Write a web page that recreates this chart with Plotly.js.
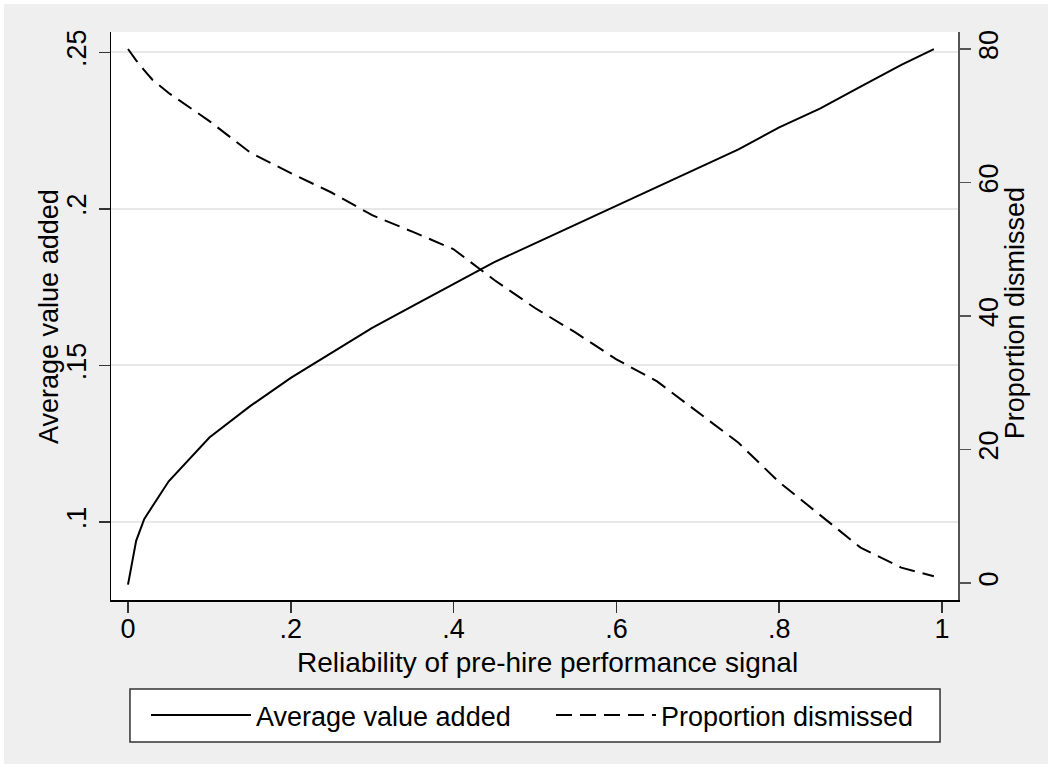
<!DOCTYPE html>
<html>
<head>
<meta charset="utf-8">
<script src="https://cdn.plot.ly/plotly-3.0.1.min.js"></script>
<style>html,body{margin:0;padding:0;background:#fff;}#chart{width:1052px;height:768px;}</style>
</head>
<body>
<div id="chart"></div>
<script>
const reliability = [0, 0.01, 0.02, 0.03, 0.05, 0.1, 0.15, 0.2, 0.25, 0.3, 0.35, 0.4, 0.45, 0.5, 0.55, 0.6, 0.65, 0.7, 0.75, 0.8, 0.85, 0.9, 0.95, 0.99];
const avgValueAdded = [0.080, 0.094, 0.101, 0.105, 0.113, 0.127, 0.137, 0.146, 0.154, 0.162, 0.169, 0.176, 0.183, 0.189, 0.195, 0.201, 0.207, 0.213, 0.219, 0.226, 0.232, 0.239, 0.246, 0.251];
const propDismissed = [80, 78.3, 76.8, 75.4, 73.4, 69.2, 64.5, 61.4, 58.5, 55.1, 52.6, 50, 45.4, 41.2, 37.5, 33.5, 30.2, 25.6, 21, 15.1, 10.2, 5.3, 2.3, 1];
const xTickVals = [0, 0.2, 0.4, 0.6, 0.8, 1];
const xTickText = ['0', '.2', '.4', '.6', '.8', '1'];
const yTickVals = [0.1, 0.15, 0.2, 0.25];
const yTickText = ['.1', '.15', '.2', '.25'];
const y2TickVals = [0, 20, 40, 60, 80];
const y2TickText = ['0', '20', '40', '60', '80'];
const xTitle = 'Reliability of pre-hire performance signal';
const yTitle = 'Average value added';
const y2Title = 'Proportion dismissed';

const FONT = 'Liberation Sans, Arial, Helvetica, sans-serif';
const FS = 27;

const traces = [
  {x: reliability, y: avgValueAdded, type: 'scatter', mode: 'lines', name: 'Average value added',
   line: {color: '#000', width: 2}, yaxis: 'y'},
  {x: reliability, y: propDismissed, type: 'scatter', mode: 'lines', name: 'Proportion dismissed',
   line: {color: '#000', width: 2, dash: '16px,8px'}, yaxis: 'y2'}
];

const layout = {
  width: 1052, height: 768,
  margin: {l: 111, r: 94, t: 32, b: 168, pad: 0},
  paper_bgcolor: '#ffffff',
  plot_bgcolor: 'rgba(0,0,0,0)',
  font: {family: FONT, size: FS, color: '#000'},
  showlegend: true,
  xaxis: {
    range: [-0.02088, 1.01966], tickvals: xTickVals, ticktext: xTickText,
    ticks: 'outside', ticklen: 11, tickwidth: 1.5, tickcolor: '#333',
    showline: true, linecolor: '#000', linewidth: 1.5, showgrid: false, zeroline: false,
    tickfont: {family: FONT, size: FS, color: '#000'}, ticklabelstandoff: -7,
    automargin: false, fixedrange: true
  },
  yaxis: {
    range: [0.07509, 0.25648], tickvals: yTickVals, ticktext: yTickText, tickangle: -90,
    ticks: 'outside', ticklen: 11, tickwidth: 1.5, tickcolor: '#333',
    showline: true, linecolor: '#000', linewidth: 1.5,
    showgrid: true, gridcolor: '#e8e8e8', gridwidth: 2, zeroline: false,
    tickfont: {family: FONT, size: FS, color: '#000'}, ticklabelstandoff: 2,
    automargin: false, fixedrange: true
  },
  yaxis2: {
    overlaying: 'y', side: 'right',
    range: [-2.547, 82.547], tickvals: y2TickVals, ticktext: y2TickText, tickangle: -90,
    ticks: 'outside', ticklen: 11, tickwidth: 1.5, tickcolor: '#555',
    showline: true, linecolor: '#555', linewidth: 1.5, showgrid: false, zeroline: false,
    tickfont: {family: FONT, size: FS, color: '#000'}, ticklabelstandoff: -5,
    automargin: false, fixedrange: true
  },
  annotations: [
    {text: xTitle, xref: 'paper', yref: 'paper', x: 0.5148, y: -0.1092, xanchor: 'center', yanchor: 'middle',
     showarrow: false, font: {family: FONT, size: 28, color: '#000'}},
    {text: yTitle, xref: 'paper', yref: 'paper', x: -0.0732, y: 0.5, xanchor: 'center', yanchor: 'middle',
     textangle: -90, showarrow: false, font: {family: FONT, size: FS, color: '#000'}},
    {text: y2Title, xref: 'paper', yref: 'paper', x: 1.0673, y: 0.505, xanchor: 'center', yanchor: 'middle',
     textangle: -90, showarrow: false, font: {family: FONT, size: FS, color: '#000'}}
  ],
  legend: {
    orientation: 'h', x: 0.0413, xanchor: 'left', y: -0.2033, yanchor: 'middle',
    bgcolor: 'rgba(0,0,0,0)', borderwidth: 0, itemwidth: 100, entrywidth: 290, entrywidthmode: 'pixels',
    font: {family: FONT, size: FS, color: '#000'}, traceorder: 'normal'
  },
  shapes: [
    {type: 'rect', xref: 'paper', yref: 'paper', x0: -0.1263, x1: 1.1063, y0: -0.2887, y1: 1.0493,
     fillcolor: '#efefef', line: {width: 0}, layer: 'below'},
    {type: 'rect', xref: 'paper', yref: 'paper', x0: 0, x1: 1, y0: 0, y1: 1,
     fillcolor: '#ffffff', line: {width: 0}, layer: 'below'},
    {type: 'rect', xref: 'paper', yref: 'paper', x0: 0.0224, x1: 0.9788, y0: -0.25, y1: -0.1567,
     fillcolor: '#ffffff', line: {color: '#333', width: 1.5}, layer: 'below'}
  ]
};

Plotly.newPlot('chart', traces, layout, {displayModeBar: false, staticPlot: true});
</script>
</body>
</html>
